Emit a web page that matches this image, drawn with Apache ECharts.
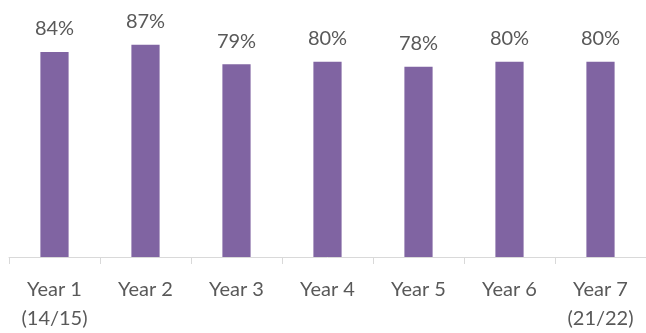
<!DOCTYPE html>
<html>
<head>
<meta charset="utf-8">
<script src="https://cdn.jsdelivr.net/npm/echarts@6/dist/echarts.min.js"></script>
<style>
  html, body { margin: 0; padding: 0; background: #fff; }
  #chart { width: 646px; height: 333px; }
</style>
</head>
<body>
<div id="chart"></div>
<script>
// Share per year, in percent
const categories = ['Year 1\n(14/15)', 'Year 2', 'Year 3', 'Year 4', 'Year 5', 'Year 6', 'Year 7\n(21/22)'];
const values = [84, 87, 79, 80, 78, 80, 80];

const chart = echarts.init(document.getElementById('chart'), null, { renderer: 'canvas' });
chart.setOption({
  animation: false,
  backgroundColor: '#ffffff',
  grid: { left: 9, top: 13, width: 639, bottom: 73, containLabel: false },
  xAxis: {
    type: 'category',
    data: categories,
    boundaryGap: true,
    axisLine: { show: true, lineStyle: { color: '#d9d9d9', width: 1 } },
    axisTick: { show: true, length: 7, lineStyle: { color: '#d9d9d9' } },
    axisLabel: {
      color: '#595959',
      fontFamily: 'Lato',
      fontSize: 20,
      lineHeight: 29,
      margin: 18,
      interval: 0
    }
  },
  yAxis: {
    type: 'value',
    min: 0,
    max: 100,
    show: false
  },
  series: [{
    type: 'bar',
    data: values,
    barWidth: '31%',
    itemStyle: { color: '#8064A2' },
    label: {
      show: true,
      position: 'top',
      distance: 13,
      formatter: p => p.value + '%',
      color: '#595959',
      fontFamily: 'Lato',
      fontSize: 20
    }
  }]
});
</script>
</body>
</html>
